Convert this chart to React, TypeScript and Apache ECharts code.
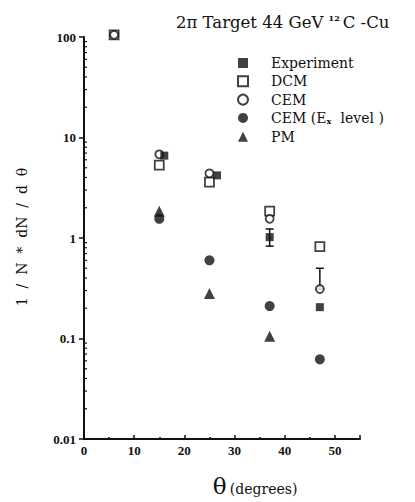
import React, { useEffect, useRef } from "react";
import * as echarts from "echarts";

// Angular distribution, 2π target, 44 GeV 12C-Cu
const experiment: [number, number][] = [[16, 6.6], [26.5, 4.2], [37, 1.02], [47, 0.205]];
const dcm: [number, number][] = [[6, 105], [15, 5.3], [25, 3.6], [37, 1.85], [47, 0.82]];
const cem: [number, number][] = [[6, 105], [15, 6.8], [25, 4.4], [37, 1.55], [47, 0.31]];
const cemEx: [number, number][] = [[15, 1.55], [25, 0.6], [37, 0.21], [47, 0.062]];
const pm: [number, number][] = [[15, 1.85], [25, 0.28], [37, 0.105]];
// error bars: [theta, low, high]
const experimentErr: [number, number, number][] = [[37, 0.83, 1.23]];
const cemErr: [number, number, number][] = [[47, 0.31, 0.5]];
// log minor tick positions on the y axis
const minorY: number[] = [];
for (const d of [0.01, 0.1, 1, 10]) for (let m = 2; m <= 9; m++) minorY.push(+(m * d).toPrecision(3));
const yTickLabels: Record<string, string> = { "0.01": "0.01", "0.1": "0.1", "1": "1", "10": "10", "100": "100" };

const SERIF = "'Liberation Serif', 'DejaVu Serif', serif";
const WIDE_SERIF = "'DejaVu Serif', 'Liberation Serif', serif";

export default function App() {
  const ref = useRef<HTMLDivElement>(null);
  useEffect(() => {
    if (!ref.current) return;
    const chart = echarts.init(ref.current, null, { renderer: "svg" });

    const errRender = (params: any, api: any) => {
      const x = api.value(0);
      const lo = api.coord([x, api.value(1)]);
      const hi = api.coord([x, api.value(2)]);
      const w = 4;
      const st = { stroke: "#111", lineWidth: 1.5 };
      return {
        type: "group",
        children: [
          { type: "line", shape: { x1: lo[0], y1: lo[1], x2: hi[0], y2: hi[1] }, style: st },
          { type: "line", shape: { x1: lo[0] - w, y1: lo[1], x2: lo[0] + w, y2: lo[1] }, style: st },
          { type: "line", shape: { x1: hi[0] - w, y1: hi[1], x2: hi[0] + w, y2: hi[1] }, style: st },
        ],
      };
    };

    chart.setOption({
      animation: false,
      backgroundColor: "#fff",
      title: {
        text: "2π Target 44 GeV {sup|12}C -Cu",
        left: 171,
        top: 9,
        textStyle: {
          fontFamily: WIDE_SERIF,
          fontSize: 16.5,
          fontWeight: "normal",
          color: "#111",
          rich: {
            sup: { fontFamily: WIDE_SERIF, fontSize: 8, fontWeight: "bold", verticalAlign: "top", padding: [0, 3, 9, 0], color: "#111" },
          },
        },
      },
      legend: {
        orient: "vertical",
        left: 232,
        top: 51,
        itemGap: 4.3,
        itemWidth: 10,
        itemHeight: 10,
        data: ["Experiment", "DCM", "CEM", "CEM (Ex level )", "PM"],
        formatter: (name: string) =>
          name === "CEM (Ex level )" ? "{t|CEM (E}{s|x}{t| level )}" : "{t|" + name + "}",
        textStyle: {
          rich: {
            t: { fontFamily: WIDE_SERIF, fontSize: 14, color: "#111" },
            s: { fontFamily: WIDE_SERIF, fontSize: 8, fontWeight: "bold", color: "#111", verticalAlign: "bottom", padding: [7, 5, 0, 0] },
          },
          padding: [0, 0, 0, 18],
        },
      },
      grid: { left: 84, right: 55, top: 37, bottom: 63 },
      xAxis: {
        type: "value",
        min: 0,
        max: 55,
        interval: 10,
        axisLine: { lineStyle: { color: "#111", width: 2 } },
        axisTick: { inside: true, length: 4, lineStyle: { color: "#111", width: 1.5 } },
        minorTick: { show: true, splitNumber: 2, length: 2, lineStyle: { color: "#111", width: 1.5 } },
        axisLabel: {
          showMaxLabel: false,
          fontFamily: SERIF,
          fontWeight: "bold",
          fontSize: 13,
          color: "#111",
          margin: 5,
        },
        splitLine: { show: false },
      },
      yAxis: {
        type: "log",
        logBase: 10,
        min: 0.01,
        max: 100,
        axisLine: { show: true, lineStyle: { color: "#111", width: 2 } },
        axisTick: { show: true, length: 5, lineStyle: { color: "#111", width: 1.5 } },
        axisLabel: {
          fontFamily: SERIF,
          fontWeight: "bold",
          fontSize: 13,
          color: "#111",
          margin: 8,
          formatter: (v: number) => yTickLabels[String(+v.toPrecision(3))] ?? "",
        },
        splitLine: { show: false },
      },
      graphic: [
        {
          type: "text",
          x: 22,
          y: 237,
          rotation: Math.PI / 2,
          style: {
            text: "1  /  N  *  dN  /  d  θ",
            font: "14px " + WIDE_SERIF,
            fill: "#111",
            textAlign: "center",
            textVerticalAlign: "middle",
          },
        },
        {
          type: "text",
          x: 255,
          y: 486,
          style: {
            text: "{a|θ} {b|(degrees)}",
            fill: "#111",
            textAlign: "center",
            textVerticalAlign: "middle",
            rich: {
              a: { fontFamily: WIDE_SERIF, fontSize: 23, fill: "#111" },
              b: { fontFamily: WIDE_SERIF, fontSize: 14, fill: "#111", padding: [5, 0, 0, 0] },
            },
          } as any,
        },
      ],
      series: [
        {
          name: "minor",
          type: "custom",
          silent: true,
          data: minorY.map((v) => [0, v]),
          renderItem: (params: any, api: any) => {
            const p = api.coord([api.value(0), api.value(1)]);
            return {
              type: "line",
              shape: { x1: p[0], y1: p[1], x2: p[0] + 3, y2: p[1] },
              style: { stroke: "#111", lineWidth: 1.2 },
            };
          },
          z: 1,
        },
        { name: "errExp", type: "custom", data: experimentErr, renderItem: errRender, z: 2 },
        { name: "errCem", type: "custom", data: cemErr, renderItem: errRender, z: 2 },
        {
          name: "DCM",
          type: "scatter",
          data: dcm,
          clip: false,
          symbol: "rect",
          symbolSize: 9,
          itemStyle: { color: "#fff", borderColor: "#111", borderWidth: 1.8 },
          z: 3,
        },
        {
          name: "CEM",
          type: "scatter",
          data: cem,
          clip: false,
          symbol: "circle",
          symbolSize: 8,
          itemStyle: { color: "#fff", borderColor: "#111", borderWidth: 1.8 },
          z: 4,
        },
        {
          name: "Experiment",
          type: "scatter",
          data: experiment,
          symbol: "rect",
          symbolSize: 8,
          itemStyle: { color: "#111" },
          z: 5,
        },
        {
          name: "CEM (Ex level )",
          type: "scatter",
          data: cemEx,
          symbol: "circle",
          symbolSize: 10,
          itemStyle: { color: "#111" },
          z: 5,
        },
        {
          name: "PM",
          type: "scatter",
          data: pm,
          symbol: "triangle",
          symbolSize: 11,
          itemStyle: { color: "#111" },
          z: 4,
        },
      ],
    });
    return () => chart.dispose();
  }, []);
  return <div ref={ref} style={{ width: 415, height: 502, position: "absolute", left: 0, top: 0 }} />;
}
